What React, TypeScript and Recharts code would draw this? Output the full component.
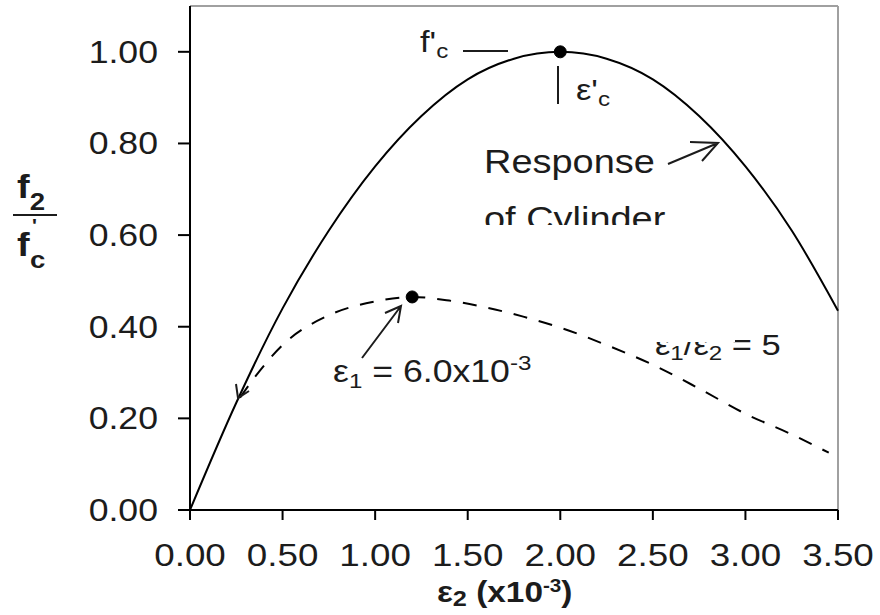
import { LineChart, Line, XAxis, YAxis, ReferenceDot, ReferenceLine } from "recharts";

// cylinder response (solid)
const cylinderStrain = [0, 0.25, 0.5, 0.75, 1.0, 1.25, 1.5, 1.75, 2.0, 2.25, 2.5, 2.75, 3.0, 3.25, 3.5];
const cylinderStress = [0, 0.234, 0.44, 0.61, 0.75, 0.86, 0.94, 0.985, 1.0, 0.985, 0.94, 0.86, 0.75, 0.61, 0.435];

// e1/e2 = 5 curve (dashed)
const panelStrain = [0.27, 0.35, 0.5, 0.75, 1.0, 1.2, 1.4, 1.6, 1.8, 2.0, 2.25, 2.5, 2.75, 3.0, 3.25, 3.45];
const panelStress = [0.245, 0.29, 0.36, 0.425, 0.455, 0.465, 0.457, 0.442, 0.422, 0.398, 0.36, 0.317, 0.265, 0.21, 0.165, 0.125];

const xTicks = [0, 0.5, 1.0, 1.5, 2.0, 2.5, 3.0, 3.5];
const yTicks = [0, 0.2, 0.4, 0.6, 0.8, 1.0];

const cylinderPeak = { x: 2.0, y: 1.0 };
const panelPeak = { x: 1.2, y: 0.465 };

const cylinderData = cylinderStrain.map((x, i) => ({ x, y: cylinderStress[i] }));
const panelData = panelStrain.map((x, i) => ({ x, y: panelStress[i] }));

const FONT = '"Liberation Sans", Arial, sans-serif';
const INK = "#1c1c1c";
const SX = 1.15;

function XTick({ x, y, payload }: any) {
  return (
    <g transform={`translate(${x},${y}) scale(${SX},1)`}>
      <text textAnchor="middle" dy="0.71em" fontSize={32} fontFamily={FONT} fill={INK}>
        {Number(payload.value).toFixed(2)}
      </text>
    </g>
  );
}

function YTick({ x, y, payload }: any) {
  return (
    <g transform={`translate(${x},${y}) scale(${SX},1)`}>
      <text textAnchor="end" dy="0.355em" fontSize={31} fontFamily={FONT} fill={INK}>
        {Number(payload.value).toFixed(2)}
      </text>
    </g>
  );
}

function T({ x, y, size = 32, bold = false, children }: any) {
  return (
    <g transform={`translate(${x},${y}) scale(${SX},1)`}>
      <text fontSize={size} fontFamily={FONT} fontWeight={bold ? "bold" : "normal"} fill={INK}>
        {children}
      </text>
    </g>
  );
}

function Overlay() {
  return (
    <svg width={880} height={615} style={{ position: "absolute", left: 0, top: 0, pointerEvents: "none" }}>
      <defs>
        <clipPath id="cylClip">
          <rect x={0} y={0} width={880} height={225} />
        </clipPath>
        <clipPath id="ratioClip">
          <rect x={0} y={342} width={880} height={100} />
          <rect x={735} y={300} width={145} height={100} />
        </clipPath>
      </defs>

      {/* y label f2 / f'c */}
      <T x={17} y={198} size={33} bold>
        f<tspan fontSize={24} dy={12}>2</tspan>
      </T>
      <line x1={13} y1={215} x2={57} y2={215} stroke={INK} strokeWidth={2} />
      <T x={17} y={256} size={33} bold>
        f<tspan fontSize={18} dx={2} dy={-24}>'</tspan>
        <tspan fontSize={24} dx={-6} dy={36}>c</tspan>
      </T>

      {/* x label */}
      <T x={437} y={602} size={29} bold>
        ε<tspan fontSize={22} dy={4}>2</tspan>
        <tspan dy={-4}> (x10</tspan>
        <tspan fontSize={18} dy={-10}>-3</tspan>
        <tspan dy={10}>)</tspan>
      </T>

      {/* f'c marker */}
      <T x={420} y={52} size={30}>
        f'<tspan fontSize={21} dy={6}>c</tspan>
      </T>
      <line x1={463} y1={51} x2={508} y2={51} stroke={INK} strokeWidth={2} />
      <line x1={558} y1={66} x2={558} y2={104} stroke={INK} strokeWidth={2} />
      <T x={576} y={100} size={30}>
        ε'<tspan fontSize={21} dy={6}>c</tspan>
      </T>

      {/* Response of Cylinder */}
      <T x={484} y={173} size={33}>
        Response
      </T>
      <g clipPath="url(#cylClip)">
        <T x={484} y={230} size={33}>
          of Cylinder
        </T>
      </g>
      <path d="M668 164 L718 143 M690 142 L718 143 L702 161" fill="none" stroke={INK} strokeWidth={2} />

      {/* e1 annotation */}
      <T x={333} y={382} size={31}>
        ε<tspan fontSize={21} dy={6}>1</tspan>
        <tspan dy={-6}> = 6.0x10</tspan>
        <tspan fontSize={21} dy={-12}>-3</tspan>
      </T>
      <path d="M362 358 L401 306 M385 313 L401 306 L398 323" fill="none" stroke={INK} strokeWidth={2} />

      {/* start arrow of dashed curve */}
      <path d="M236 384 L238 398 L249 391" fill="none" stroke={INK} strokeWidth={2} />

      {/* ratio label */}
      <g clipPath="url(#ratioClip)">
        <T x={655} y={355} size={30}>
          ε<tspan fontSize={21} dy={5}>1</tspan>
          <tspan dy={-5}>/ε</tspan>
          <tspan fontSize={21} dy={5}>2</tspan>
          <tspan dy={-5}> = 5</tspan>
        </T>
      </g>
    </svg>
  );
}

export default function App() {
  return (
    <div style={{ position: "absolute", left: 0, top: 0, width: 880, height: 615, background: "#fff" }}>
      <LineChart width={880} height={615} margin={{ top: 6, right: 42, left: 0, bottom: 0 }}>
        <XAxis
          dataKey="x"
          type="number"
          domain={[0, 3.5]}
          ticks={xTicks}
          height={105}
          tickSize={10}
          tickMargin={23}
          tick={<XTick />}
          axisLine={{ stroke: "#000", strokeWidth: 2 }}
          tickLine={{ stroke: "#000", strokeWidth: 2 }}
          allowDuplicatedCategory={false}
        />
        <YAxis
          dataKey="y"
          type="number"
          domain={[0, 1.1]}
          ticks={yTicks}
          width={190}
          tickSize={12}
          tickMargin={20}
          tick={<YTick />}
          axisLine={{ stroke: "#000", strokeWidth: 2 }}
          tickLine={{ stroke: "#000", strokeWidth: 2 }}
        />
        <ReferenceLine y={1.1} stroke="#a0a0a0" strokeWidth={2} />
        <ReferenceLine x={3.5} stroke="#a0a0a0" strokeWidth={2} />
        <Line
          data={cylinderData}
          dataKey="y"
          type="monotone"
          stroke="#000"
          strokeWidth={2}
          dot={false}
          isAnimationActive={false}
        />
        <Line
          data={panelData}
          dataKey="y"
          type="monotone"
          stroke="#000"
          strokeWidth={2}
          strokeDasharray="14 12"
          dot={false}
          isAnimationActive={false}
        />
        <ReferenceDot x={cylinderPeak.x} y={cylinderPeak.y} r={6} fill="#000" stroke="#000" />
        <ReferenceDot x={panelPeak.x} y={panelPeak.y} r={6} fill="#000" stroke="#000" />
      </LineChart>
      <Overlay />
    </div>
  );
}
